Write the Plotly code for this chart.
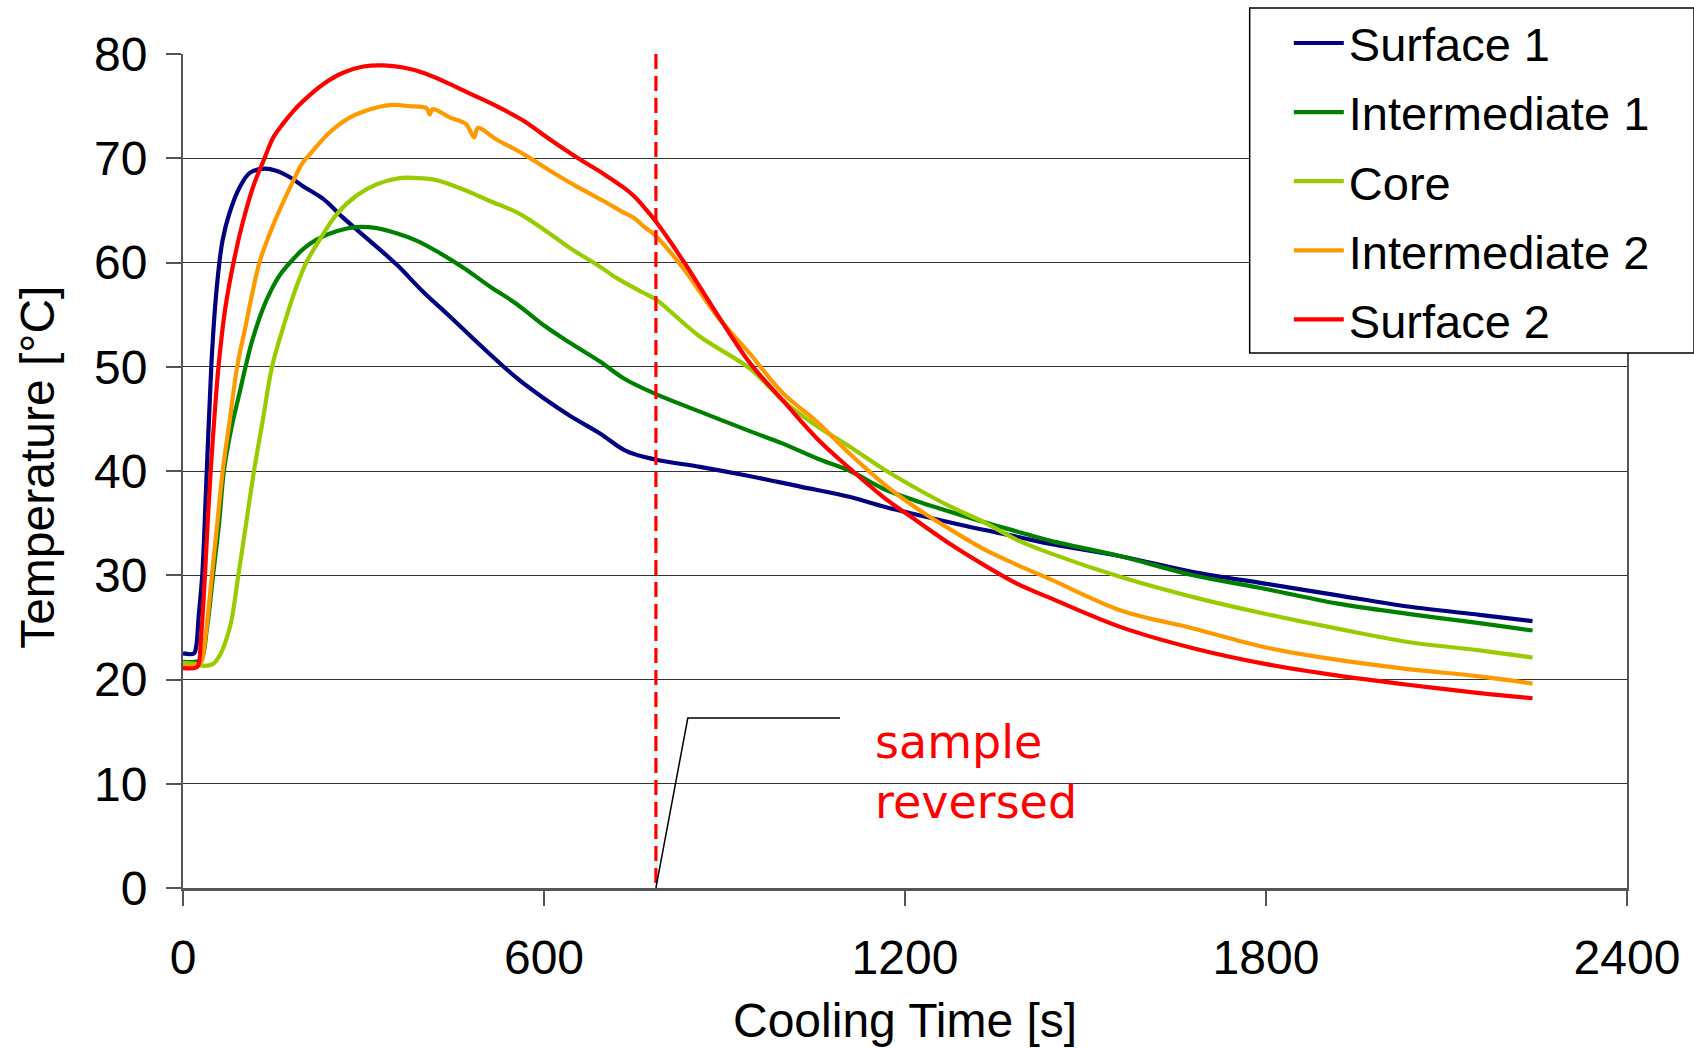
import plotly.graph_objects as go

t_surface1 = [0, 18, 22, 26, 32, 39.5, 47, 53, 60.5, 66, 77, 94, 111, 135, 155, 177, 200, 233, 266, 310,
              355, 399, 444, 499, 555, 599, 643, 693, 737, 785, 859, 943, 1026, 1109, 1164, 1220, 1303,
              1386, 1442, 1560, 1679, 1798, 1917, 2036, 2155, 2243]
surface1 = [22.5, 22.5, 23.2, 26, 30, 40, 50, 55.5, 60, 62.2, 64.7, 67.2, 68.6, 69.0, 68.8, 68.2, 67.3, 66.1,
            64.3, 62.1, 59.8, 57.2, 54.8, 51.8, 48.9, 47.0, 45.3, 43.6, 41.9, 41.1, 40.4, 39.5, 38.5, 37.5,
            36.6, 35.8, 34.7, 33.7, 33.0, 31.8, 30.3, 29.2, 28.1, 27.0, 26.2, 25.6]

t_inter1 = [0, 20, 30, 40, 50, 60, 68, 80, 94, 104, 115, 133, 147, 161, 178, 200, 222, 255, 288, 322, 355,
            388, 421, 466, 510, 555, 599, 643, 693, 732, 785, 859, 943, 998, 1054, 1109, 1164, 1220, 1275,
            1331, 1386, 1442, 1560, 1679, 1798, 1917, 2036, 2155, 2243]
inter1 = [21.7, 21.7, 21.9, 25, 30, 35, 40, 44, 47.5, 50, 52.5, 55.6, 57.4, 58.8, 60, 61.3, 62.2, 63.0, 63.4,
          63.3, 62.8, 62.1, 61.1, 59.5, 57.7, 56.0, 54.0, 52.3, 50.5, 48.9, 47.4, 45.7, 43.8, 42.6, 41.2,
          40.0, 38.3, 37.1, 36.1, 35.1, 34.2, 33.3, 31.8, 30.0, 28.7, 27.3, 26.3, 25.4, 24.7]

t_core = [0, 20, 36, 50, 60, 70, 80, 92, 105, 118, 133, 148, 165, 188, 205, 222, 255, 288, 322, 360, 388,
          421, 466, 510, 555, 599, 643, 693, 721, 765, 785, 859, 943, 998, 1054, 1109, 1164, 1220, 1275,
          1331, 1386, 1442, 1560, 1679, 1798, 1917, 2036, 2155, 2243]
core = [21.6, 21.5, 21.3, 21.5, 22.2, 23.5, 25.5, 30, 35, 40, 45, 50, 53.5, 57.6, 60, 61.7, 64.6, 66.4, 67.5,
        68.1, 68.1, 67.9, 67.0, 65.9, 64.8, 63.2, 61.4, 59.6, 58.5, 57.1, 56.5, 52.9, 49.8, 46.7, 44.3,
        42.3, 40.2, 38.3, 36.6, 35.1, 33.4, 32.1, 29.8, 27.9, 26.3, 24.9, 23.6, 22.8, 22.1]

t_inter2 = [0, 20, 30, 36, 42, 48, 57, 66, 78, 90, 103, 115, 127, 141, 155, 169, 183, 197, 211, 244, 277,
            311, 344, 377, 405, 410, 415, 444, 470, 484, 490, 521, 566, 610, 654, 699, 732, 749, 765, 785,
            832, 887, 943, 998, 1054, 1109, 1164, 1220, 1275, 1331, 1386, 1442, 1560, 1679, 1798, 1917,
            2036, 2155, 2243]
inter2 = [21.3, 21.3, 21.6, 23.5, 26.5, 30, 35, 40, 45, 50, 53.6, 57, 60, 62.3, 64.3, 66.1, 67.8, 69.4,
          70.4, 72.5, 73.9, 74.7, 75.1, 75.0, 74.8, 74.2, 74.7, 73.9, 73.3, 72.0, 72.9, 71.8, 70.4, 68.8,
          67.3, 65.9, 64.8, 64.3, 63.5, 62.6, 59.4, 54.9, 51.2, 47.4, 44.7, 41.6, 38.8, 36.4, 34.4, 32.5,
          31.0, 29.6, 26.6, 24.9, 23.1, 21.9, 21.0, 20.3, 19.6]

t_surface2 = [0, 20, 25, 30, 36.5, 41, 46, 52, 59, 70, 84, 100, 118, 135.5, 150, 166, 183, 200, 233, 266,
              300, 333, 366, 399, 433, 477, 521, 566, 610, 654, 699, 732, 749, 765, 785, 832, 887, 943,
              998, 1054, 1109, 1164, 1220, 1275, 1331, 1386, 1442, 1560, 1679, 1798, 1917, 2036, 2155, 2243]
surface2 = [21.1, 21.1, 21.3, 24, 30, 35, 40, 45, 50, 55.5, 60, 64, 67.5, 70, 72, 73.3, 74.5, 75.5, 77.1,
            78.2, 78.8, 78.9, 78.7, 78.2, 77.4, 76.2, 75.0, 73.6, 71.8, 70.1, 68.5, 67.2, 66.4, 65.4, 64.0,
            60.1, 55.1, 50.3, 46.7, 43.1, 40.2, 37.5, 35.2, 33.0, 31.0, 29.2, 27.8, 25.0, 23.0, 21.5, 20.4,
            19.5, 18.7, 18.2]

series = [
    ('Surface 1', t_surface1, surface1, '#000080'),
    ('Intermediate 1', t_inter1, inter1, '#008000'),
    ('Core', t_core, core, '#99CC00'),
    ('Intermediate 2', t_inter2, inter2, '#FF9900'),
    ('Surface 2', t_surface2, surface2, '#FF0000'),
]

t_reversed = 786  # moment the sample was turned over

FONT = 'Liberation Sans, Arial, sans-serif'

fig = go.Figure()
for name, t, v, col in series:
    fig.add_trace(go.Scatter(x=t, y=v, name=name, mode='lines', legendgroup=name,
                             line=dict(color=col, width=4.2, shape='spline', smoothing=1.0)))

# dashed marker for the reversal
fig.add_trace(go.Scatter(x=[t_reversed, t_reversed], y=[80, 0], mode='lines', showlegend=False,
                         line=dict(color='#FF0000', width=3.2, dash='15px,7px'), hoverinfo='skip'))
# leader line to the label
fig.add_trace(go.Scatter(x=[t_reversed, t_reversed + 53, t_reversed + 306], y=[0, 16.3, 16.3],
                         mode='lines', showlegend=False, line=dict(color='black', width=1.5),
                         hoverinfo='skip'))

fig.add_annotation(x=1147, y=11.1, xref='x', yref='y', text='sample<br>reversed', showarrow=False,
                   xanchor='left', yanchor='middle', align='left',
                   font=dict(family='DejaVu Sans, Verdana, sans-serif', size=46, color='#FF0000'))

# axis titles
fig.add_annotation(x=0.5, y=-0.1583, xref='paper', yref='paper', text='Cooling Time [s]',
                   showarrow=False, xanchor='center', yanchor='middle',
                   font=dict(family=FONT, size=48, color='black'))
fig.add_annotation(x=-0.1005, y=0.5048, xref='paper', yref='paper', text='Temperature [°C]',
                   showarrow=False, xanchor='center', yanchor='middle', textangle=-90,
                   font=dict(family=FONT, size=48, color='black'))

# legend frame (white box that also hides the grid behind it)
fig.add_shape(type='rect', xref='paper', yref='paper', x0=0.7387, x1=1.0464, y0=0.6415, y1=1.0552,
              fillcolor='white', line=dict(color='black', width=1.5), layer='above')

fig.update_layout(
    width=1694, height=1048,
    margin=dict(l=183, r=67, t=54, b=160, autoexpand=False),
    paper_bgcolor='white', plot_bgcolor='white',
    font=dict(family=FONT, color='black'),
    showlegend=True,
    legend=dict(x=0.7658, y=1.0576, xanchor='left', yanchor='top',
                bgcolor='rgba(0,0,0,0)', borderwidth=0,
                font=dict(family=FONT, size=47, color='black'),
                itemwidth=50, tracegroupgap=5, traceorder='grouped'),
)
fig.update_xaxes(
    range=[0, 2400], tickvals=[0, 600, 1200, 1800, 2400],
    ticks='outside', ticklen=15, tickwidth=1.5, tickcolor='#555555',
    showline=True, linecolor='#555555', linewidth=2.5, mirror=False,
    showgrid=False, zeroline=False,
    tickfont=dict(family=FONT, size=48, color='black'), ticklabelstandoff=11,
)
fig.update_yaxes(
    range=[0, 80], dtick=10,
    ticks='outside', ticklen=15, tickwidth=1.5, tickcolor='#555555',
    showline=True, linecolor='#555555', linewidth=2, mirror=True,
    showgrid=True, gridcolor='#333333', gridwidth=1.2, zeroline=False,
    tickfont=dict(family=FONT, size=48, color='black'), ticklabelstandoff=9,
)

fig.write_html('out.html', config={'displayModeBar': False},
               post_script="document.body.style.margin='0px';")
